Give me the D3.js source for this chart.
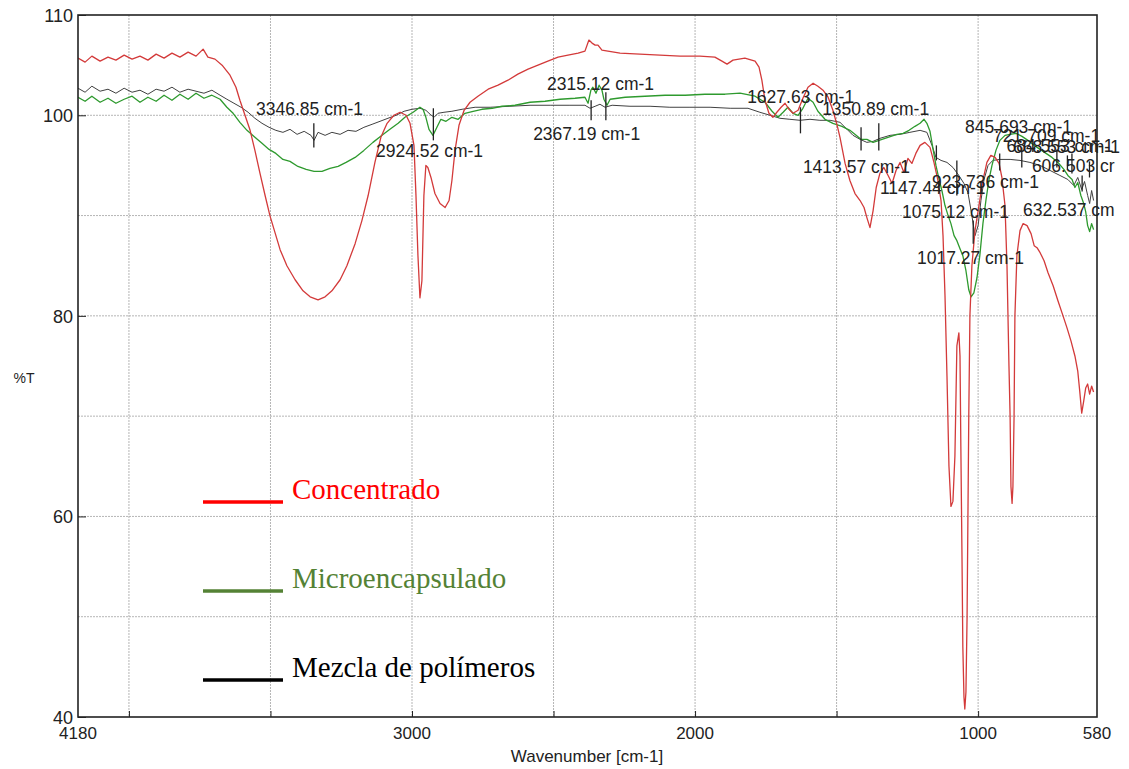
<!DOCTYPE html>
<html><head><meta charset="utf-8">
<script src="https://cdn.jsdelivr.net/npm/d3@7"></script>
<style>
html,body{margin:0;padding:0;background:#fff;}
svg{display:block;}
</style></head>
<body>
<svg id="chart" width="1129" height="769"></svg>
<script>
// ---------------- DATA ----------------
const xTickValues = [4180, 3000, 2000, 1000, 580];
const xGridValues = [4000, 3500, 3000, 2500, 2000, 1500, 1000];
const yTickValues = [110, 100, 80, 60, 40];
const yGridValues = [100, 90, 80, 70, 60, 50];

const seriesNames = ["Concentrado", "Microencapsulado", "Mezcla de polímeros"];

const wnConcentrado = [4180,4155,4131,4102,4074,4046,4017,3989,3961,3933,3904,3876,3848,3820,3791,3763,3738,3721,3696,3671,3643,3622,3608,3590,3572,3555,3537,3519,3502,3484,3466,3442,3413,3385,3360,3332,3307,3283,3254,3230,3201,3177,3155,3131,3110,3088,3064,3042,3021,3007,2993,2986,2979,2972,2965,2958,2951,2944,2933,2919,2901,2883,2869,2859,2848,2834,2816,2795,2767,2731,2696,2661,2626,2590,2555,2520,2484,2449,2413,2389,2375,2364,2353,2343,2329,2308,2265,2195,2124,2053,1983,1930,1905,1887,1866,1824,1788,1774,1764,1753,1739,1725,1711,1696,1682,1668,1654,1636,1619,1601,1583,1566,1548,1530,1513,1498,1488,1470,1453,1435,1417,1403,1393,1382,1371,1360,1347,1333,1318,1304,1290,1276,1262,1248,1234,1220,1205,1188,1170,1156,1142,1131,1124,1117,1110,1103,1096,1089,1082,1075,1068,1064,1061,1057,1054,1050,1047,1043,1039,1036,1033,1029,1022,1011,997,983,969,955,940,926,916,905,898,891,887,884,880,877,873,870,863,852,841,827,813,802,792,781,767,753,735,718,700,686,672,658,648,641,634,627,620,613,606,599,592];
const concentrado = [105.7,105.3,105.9,105.4,105.8,105.5,106.0,105.6,105.9,105.5,106.1,105.7,106.2,105.8,106.3,105.9,106.6,105.8,105.6,105.0,104.0,102.8,101.5,100.0,98.5,96.5,94.2,92.0,90.0,88.3,86.6,85.0,83.6,82.5,81.9,81.6,81.9,82.5,83.6,85.0,87.2,89.5,92.0,95.3,97.8,99.2,100.0,100.3,100.0,99.2,97.0,92.0,86.0,81.8,83.5,92.0,95.0,94.8,93.8,92.2,91.2,90.8,91.5,93.5,96.5,99.0,100.5,101.3,101.9,102.6,103.0,103.5,104.1,104.6,105.0,105.4,105.8,106.0,106.2,106.4,107.5,107.2,107.0,107.0,106.5,106.4,106.2,106.1,106.0,105.9,105.9,105.8,105.4,105.1,105.5,105.7,105.4,104.8,103.5,101.5,100.2,99.8,100.3,100.8,101.2,100.6,100.2,100.5,101.7,102.8,103.2,102.9,102.5,101.8,100.5,99.0,97.8,95.2,93.5,92.2,91.5,90.8,89.8,88.8,90.5,92.8,94.2,94.8,94.0,93.2,94.5,95.3,94.3,95.7,95.2,96.2,97.0,97.3,96.8,95.3,93.5,91.5,88.0,82.0,74.0,65.0,61.0,61.5,66.0,77.0,78.3,76.0,67.0,56.0,47.0,42.0,40.8,42.5,50.0,60.0,70.0,80.0,85.0,88.5,91.0,93.5,95.3,96.0,95.8,95.2,93.8,91.0,85.0,75.0,70.0,63.0,61.3,63.0,70.0,80.0,86.0,88.5,89.2,89.0,88.2,87.0,86.8,86.3,85.5,84.3,83.0,81.5,80.0,78.8,77.5,76.0,74.5,72.5,70.3,71.5,72.8,73.2,72.2,73.0,72.4];

const wnMicro = [4180,4155,4131,4102,4074,4046,4017,3989,3961,3933,3904,3876,3848,3820,3791,3763,3735,3707,3678,3654,3632,3608,3583,3555,3530,3505,3481,3456,3431,3403,3374,3346,3318,3290,3261,3233,3201,3170,3138,3106,3078,3049,3025,2996,2972,2961,2951,2940,2926,2912,2898,2880,2859,2837,2813,2784,2753,2717,2682,2636,2583,2530,2477,2424,2389,2378,2368,2361,2350,2339,2329,2322,2311,2300,2247,2177,2106,2035,1965,1894,1841,1788,1753,1728,1707,1689,1672,1654,1636,1619,1601,1583,1566,1541,1513,1481,1453,1431,1414,1393,1371,1350,1329,1308,1287,1265,1244,1223,1205,1191,1181,1170,1159,1149,1138,1128,1117,1106,1096,1085,1075,1064,1054,1043,1033,1025,1015,1004,994,983,972,962,951,937,923,905,887,866,845,824,802,781,760,739,718,697,683,668,658,648,637,627,620,613,606,599,592];
const microencapsulado = [101.8,101.4,101.9,101.3,101.7,101.2,101.6,101.9,101.3,101.8,101.4,102.0,101.5,102.1,101.6,102.2,101.7,102.0,101.6,100.8,100.2,99.3,98.5,97.8,97.2,96.6,96.2,95.6,95.4,94.9,94.6,94.4,94.4,94.7,94.9,95.3,95.8,96.5,97.3,98.0,98.6,99.2,99.8,100.3,100.8,100.6,99.8,98.6,98.0,98.8,99.6,99.4,99.8,99.6,100.2,100.4,100.6,100.7,100.9,101.0,101.3,101.4,101.6,101.7,101.8,101.2,102.5,102.8,102.2,103.0,102.5,101.6,101.0,101.6,101.8,101.9,102.0,102.0,102.1,102.1,102.2,101.9,101.3,100.4,99.8,100.3,100.8,100.2,100.0,100.7,101.7,101.3,100.4,99.6,99.2,98.9,98.5,98.0,97.6,97.6,97.3,97.5,97.7,97.9,98.1,98.2,98.5,98.9,99.2,99.6,99.2,98.4,96.6,95.0,93.6,92.5,91.0,90.0,89.2,88.0,87.5,86.7,86.0,84.5,82.6,81.9,82.3,83.8,86.0,89.2,91.6,93.5,95.0,96.5,97.5,98.0,98.1,98.2,97.9,97.5,97.0,96.6,96.2,95.8,95.3,94.6,94.0,93.6,92.8,93.3,92.0,91.2,90.4,89.0,88.4,89.2,88.6];

const wnMezcla = [4180,4155,4131,4102,4074,4046,4017,3989,3961,3933,3904,3876,3848,3820,3791,3763,3735,3707,3678,3654,3629,3604,3579,3555,3530,3505,3481,3456,3431,3406,3381,3357,3346,3332,3307,3283,3254,3226,3198,3170,3141,3113,3085,3056,3028,3000,2972,2951,2936,2922,2908,2887,2859,2823,2777,2724,2654,2583,2512,2442,2389,2371,2353,2336,2318,2293,2230,2159,2089,2018,1947,1876,1813,1771,1735,1700,1665,1629,1594,1559,1523,1488,1463,1442,1417,1393,1371,1347,1311,1276,1241,1205,1181,1163,1149,1131,1110,1089,1068,1050,1036,1022,1011,1000,990,979,965,948,923,887,852,817,781,746,711,683,662,648,634,624,613,606,599,592];
const mezcla = [102.7,102.3,102.9,102.4,102.6,102.2,102.7,102.3,102.5,102.1,102.6,102.4,102.8,102.3,102.6,102.4,102.2,102.5,102.0,101.6,101.2,100.8,100.3,99.7,99.2,98.8,98.5,98.3,98.6,98.1,98.4,98.0,97.5,98.3,98.0,98.3,98.1,98.5,98.4,98.8,99.1,99.4,99.7,100.0,100.4,100.6,100.7,100.5,100.1,99.8,100.2,100.3,100.4,100.6,100.8,100.8,100.9,101.0,101.0,101.0,101.0,100.7,100.9,101.1,100.8,101.0,100.9,100.9,100.8,100.8,100.8,100.7,100.7,100.3,100.0,99.7,99.6,99.5,99.6,99.5,99.5,99.3,98.6,98.0,97.6,97.3,97.4,97.7,98.0,98.1,98.3,98.5,98.3,97.0,95.8,95.5,95.3,94.8,94.0,93.2,92.3,90.0,88.0,89.0,91.5,93.6,95.0,95.5,95.6,95.6,95.5,95.3,95.0,94.5,94.0,93.6,93.0,93.8,92.6,93.4,92.0,91.2,92.5,91.5];

// peak annotations: label text, tick wavenumber, tick top/bottom %T, label anchor (wavenumber, %T baseline)
const peakText  = ["3346.85 cm-1","2924.52 cm-1","2315.12 cm-1","2367.19 cm-1","1627.63 cm-1","1350.89 cm-1","1413.57 cm-1","1147.44 cm-1","923.736 cm-1","1075.12 cm-1","1017.27 cm-1","845.693 cm-1","721.709 cm-1","684.553 cm-1","668.553 cm-1","606.503 cr","632.537 cm"];
const peakWn    = [3346.85,2924.52,2315.12,2367.19,1627.63,1350.89,1413.57,1147.44,923.736,1075.12,1017.27,845.693,721.709,684.553,668.553,606.503,632.537];
const peakTop   = [99.2,100.7,102.3,101.5,100.8,99.2,98.8,97.0,96.2,95.5,89.5,96.8,96.6,96.0,96.2,95.4,94.0];
const peakBot   = [96.8,97.5,99.5,99.5,98.2,96.5,96.5,95.5,94.5,92.0,87.2,94.8,94.8,94.6,94.2,93.8,92.4];
const labelWn   = [3551,3127,2523,2572,1816,1551,1619,1347,1163,1269,1216,1046,947,900,877,810,841];
const labelT    = [100.0,95.8,102.5,97.5,101.2,100.0,94.2,92.2,92.7,89.8,85.2,98.2,97.3,96.3,96.2,94.3,90.0];

// ---------------- DRAW ----------------
const svg = d3.select("#chart");
const W = 1129, H = 769;
const m = {left: 78, top: 15, right: 1097, bottom: 717};

const x = d3.scaleLinear().domain([4180, 580]).range([m.left, m.right]);
const y = d3.scaleLinear().domain([40, 110]).range([m.bottom, m.top]);

svg.append("rect").attr("width", W).attr("height", H).attr("fill", "#fff");

svg.append("defs").append("clipPath").attr("id", "plotclip")
  .append("rect").attr("x", m.left).attr("y", m.top)
  .attr("width", m.right - m.left).attr("height", m.bottom - m.top);

// grid
const grid = svg.append("g");
grid.selectAll("line.vg").data(xGridValues).join("line")
  .attr("x1", d => x(d)).attr("x2", d => x(d))
  .attr("y1", m.top).attr("y2", m.bottom)
  .attr("stroke", "#b5b5b5").attr("stroke-width", 1).attr("stroke-dasharray", "2,1");
grid.selectAll("line.hg").data(yGridValues).join("line")
  .attr("x1", m.left).attr("x2", m.right)
  .attr("y1", d => y(d)).attr("y2", d => y(d))
  .attr("stroke", "#b5b5b5").attr("stroke-width", 1).attr("stroke-dasharray", "2,1");

// series
const series = [
  {wn: wnMezcla, v: mezcla, color: "#404040", w: 1},
  {wn: wnMicro, v: microencapsulado, color: "#2e9a2e", w: 1.3},
  {wn: wnConcentrado, v: concentrado, color: "#d33a3a", w: 1.3}
];
const lineGen = d3.line().x(d => x(d[0])).y(d => y(d[1]));
const plot = svg.append("g").attr("clip-path", "url(#plotclip)");
series.forEach(s => {
  const pts = s.wn.map((w, i) => [w, s.v[i]]);
  plot.append("path").datum(pts).attr("d", lineGen)
    .attr("fill", "none").attr("stroke", s.color).attr("stroke-width", s.w)
    .attr("stroke-linejoin", "round");
});

// peak ticks
svg.append("g").selectAll("line").data(peakWn).join("line")
  .attr("x1", d => x(d)).attr("x2", d => x(d))
  .attr("y1", (d, i) => y(peakTop[i])).attr("y2", (d, i) => y(peakBot[i]))
  .attr("stroke", "#222").attr("stroke-width", 1.3);

// peak labels
svg.append("g").selectAll("text").data(peakText).join("text")
  .attr("x", (d, i) => x(labelWn[i])).attr("y", (d, i) => y(labelT[i]))
  .attr("font-family", "'Liberation Sans', Arial, sans-serif")
  .attr("font-size", 17.5).attr("fill", "#222")
  .text(d => d);

// frame
svg.append("rect").attr("x", m.left).attr("y", m.top)
  .attr("width", m.right - m.left).attr("height", m.bottom - m.top)
  .attr("fill", "none").attr("stroke", "#222").attr("stroke-width", 1.6);

// axes
const xAxis = d3.axisBottom(x).tickValues(xGridValues).tickSize(-6).tickFormat("");
svg.append("g").attr("transform", `translate(0,${m.bottom})`).call(xAxis)
  .call(g => g.select(".domain").remove())
  .call(g => g.selectAll("line").attr("stroke", "#222"));
svg.append("g").selectAll("text").data(xTickValues).join("text")
  .attr("x", d => x(d)).attr("y", m.bottom + 22)
  .attr("text-anchor", "middle")
  .attr("font-family", "'Liberation Sans', Arial, sans-serif")
  .attr("font-size", 17).attr("fill", "#222")
  .text(d => d);

const yAxis = d3.axisLeft(y).tickValues(yTickValues).tickSize(-8).tickFormat("");
svg.append("g").attr("transform", `translate(${m.left},0)`).call(yAxis)
  .call(g => g.select(".domain").remove())
  .call(g => g.selectAll("line").attr("stroke", "#222"));
svg.append("g").selectAll("text").data(yTickValues).join("text")
  .attr("x", m.left - 5).attr("y", d => y(d) + 7)
  .attr("text-anchor", "end")
  .attr("font-family", "'Liberation Sans', Arial, sans-serif")
  .attr("font-size", 18).attr("fill", "#222")
  .text(d => d);

svg.append("text").attr("x", 24).attr("y", 383).attr("text-anchor", "middle")
  .attr("font-family", "'Liberation Sans', Arial, sans-serif")
  .attr("font-size", 14).attr("fill", "#222").text("%T");

svg.append("text").attr("x", 587).attr("y", 762).attr("text-anchor", "middle")
  .attr("font-family", "'Liberation Sans', Arial, sans-serif")
  .attr("font-size", 17).attr("fill", "#222").text("Wavenumber [cm-1]");

// legend (pixel layout)
const legendColors = ["#ff0000", "#548235", "#000000"];
const lg = svg.append("g").attr("transform", "translate(203,499)");
seriesNames.forEach((name, i) => {
  const yy = i * 89;
  lg.append("line").attr("x1", 0).attr("x2", 80)
    .attr("y1", yy + 3).attr("y2", yy + 3)
    .attr("stroke", legendColors[i]).attr("stroke-width", 3.5);
  lg.append("text").attr("x", 89).attr("y", yy)
    .attr("font-family", "'Liberation Serif', 'Times New Roman', serif")
    .attr("font-size", 29).attr("fill", legendColors[i]).text(name);
});
</script>
</body></html>
